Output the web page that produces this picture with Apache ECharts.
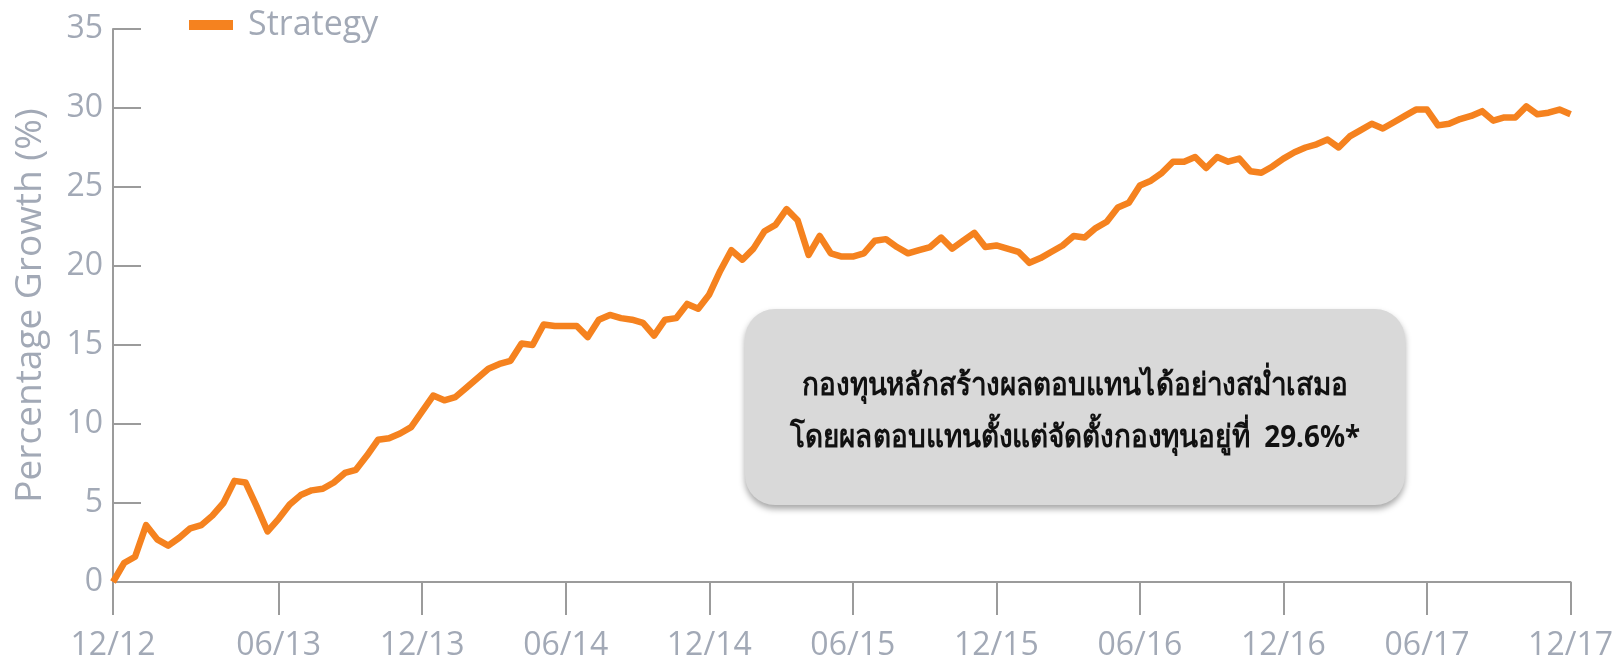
<!DOCTYPE html>
<html>
<head>
<meta charset="utf-8">
<script src="https://cdn.jsdelivr.net/npm/echarts@6/dist/echarts.min.js"></script>
<style>
  html, body { margin: 0; padding: 0; background: #fff; }
  #main { width: 1616px; height: 669px; }
</style>
</head>
<body>
<div id="main"></div>
<script>
// fortnightly points, 12/12 -> 12/17
var growth = [
  0, 1.2, 1.6, 3.6, 2.7, 2.3, 2.8, 3.4, 3.6, 4.2,
  5.0, 6.4, 6.3, 4.8, 3.2, 4.0, 4.9, 5.5, 5.8, 5.9,
  6.3, 6.9, 7.1, 8.0, 9.0, 9.1, 9.4, 9.8, 10.8, 11.8,
  11.5, 11.7, 12.3, 12.9, 13.5, 13.8, 14.0, 15.1, 15.0, 16.3,
  16.2, 16.2, 16.2, 15.5, 16.6, 16.9, 16.7, 16.6, 16.4, 15.6,
  16.6, 16.7, 17.6, 17.3, 18.2, 19.7, 21.0, 20.4, 21.1, 22.2,
  22.6, 23.6, 22.9, 20.7, 21.9, 20.8, 20.6, 20.6, 20.8, 21.6,
  21.7, 21.2, 20.8, 21.0, 21.2, 21.8, 21.1, 21.6, 22.1, 21.2,
  21.3, 21.1, 20.9, 20.2, 20.5, 20.9, 21.3, 21.9, 21.8, 22.4,
  22.8, 23.7, 24.0, 25.1, 25.4, 25.9, 26.6, 26.6, 26.9, 26.2,
  26.9, 26.6, 26.8, 26.0, 25.9, 26.3, 26.8, 27.2, 27.5, 27.7,
  28.0, 27.5, 28.2, 28.6, 29.0, 28.7, 29.1, 29.5, 29.9, 29.9,
  28.9, 29.0, 29.3, 29.5, 29.8, 29.2, 29.4, 29.4, 30.1, 29.6,
  29.7, 29.9, 29.6
];
var tickLabels = ['12/12', '06/13', '12/13', '06/14', '12/14', '06/15', '12/15', '06/16', '12/16', '06/17', '12/17'];
var tickIndex = [0, 15, 28, 41, 54, 67, 80, 93, 106, 119, 132];
var categories = growth.map(function (v, i) { return String(i); });

var note = 'กองทุนหลักสร้างผลตอบแทนได้อย่างสม่ำเสมอ\nโดยผลตอบแทนตั้งแต่จัดตั้งกองทุนอยู่ที่  29.6%*';

var axisGrey = '#9b9b9b';
var labelGrey = '#a2a9b6';
var orange = '#f5821f';
var font = '"Open Sans", "Noto Sans", sans-serif';

var myChart = echarts.init(document.getElementById('main'));

function isTick(index) {
  return tickIndex.indexOf(index) !== -1;
}

var option = {
  animation: false,
  grid: { left: 113, right: 43, top: 29, bottom: 87 },
  legend: {
    data: ['Strategy'],
    left: 189,
    top: 8,
    padding: 0,
    icon: 'rect',
    itemWidth: 44,
    itemHeight: 10,
    textStyle: { color: labelGrey, fontSize: 34, fontFamily: font, padding: [0, 0, 0, 10] }
  },
  xAxis: {
    type: 'category',
    data: categories,
    boundaryGap: false,
    axisLine: { lineStyle: { color: axisGrey, width: 2 } },
    axisTick: {
      interval: isTick,
      length: 33,
      lineStyle: { color: axisGrey, width: 2 }
    },
    axisLabel: {
      interval: isTick,
      formatter: function (value, index) {
        var k = tickIndex.indexOf(Number(value));
        return k >= 0 ? tickLabels[k] : '';
      },
      margin: 48,
      color: labelGrey,
      fontSize: 32,
      fontFamily: font
    },
    splitLine: { show: false }
  },
  yAxis: {
    type: 'value',
    min: 0,
    max: 35,
    interval: 5,
    name: 'Percentage Growth (%)',
    nameLocation: 'middle',
    nameGap: 64,
    nameTextStyle: { color: labelGrey, fontSize: 37, fontFamily: font },
    axisLine: { show: true, lineStyle: { color: axisGrey, width: 2 } },
    axisTick: { show: true, inside: true, length: 28, lineStyle: { color: axisGrey, width: 2 } },
    axisLabel: { margin: 10, color: labelGrey, fontSize: 32, fontFamily: font },
    splitLine: { show: false }
  },
  graphic: [
    {
      type: 'rect',
      shape: { x: 745, y: 309, width: 660, height: 196, r: 30 },
      style: {
        fill: '#d9d9d9',
        shadowBlur: 6,
        shadowOffsetY: 4,
        shadowColor: 'rgba(0,0,0,0.35)'
      },
      z: 10
    },
    {
      type: 'text',
      x: 1075,
      y: 412,
      scaleX: 0.9,
      style: {
        text: note,
        fill: '#111',
        font: 'bold 31px "Noto Sans", "DejaVu Sans", sans-serif',
        lineHeight: 52,
        align: 'center',
        verticalAlign: 'middle'
      },
      z: 11
    }
  ],
  series: [
    {
      name: 'Strategy',
      type: 'line',
      data: growth,
      showSymbol: false,
      symbol: 'none',
      itemStyle: { color: orange },
      lineStyle: { color: orange, width: 6.5, join: 'round' }
    }
  ]
};
myChart.setOption(option);
</script>
</body>
</html>
